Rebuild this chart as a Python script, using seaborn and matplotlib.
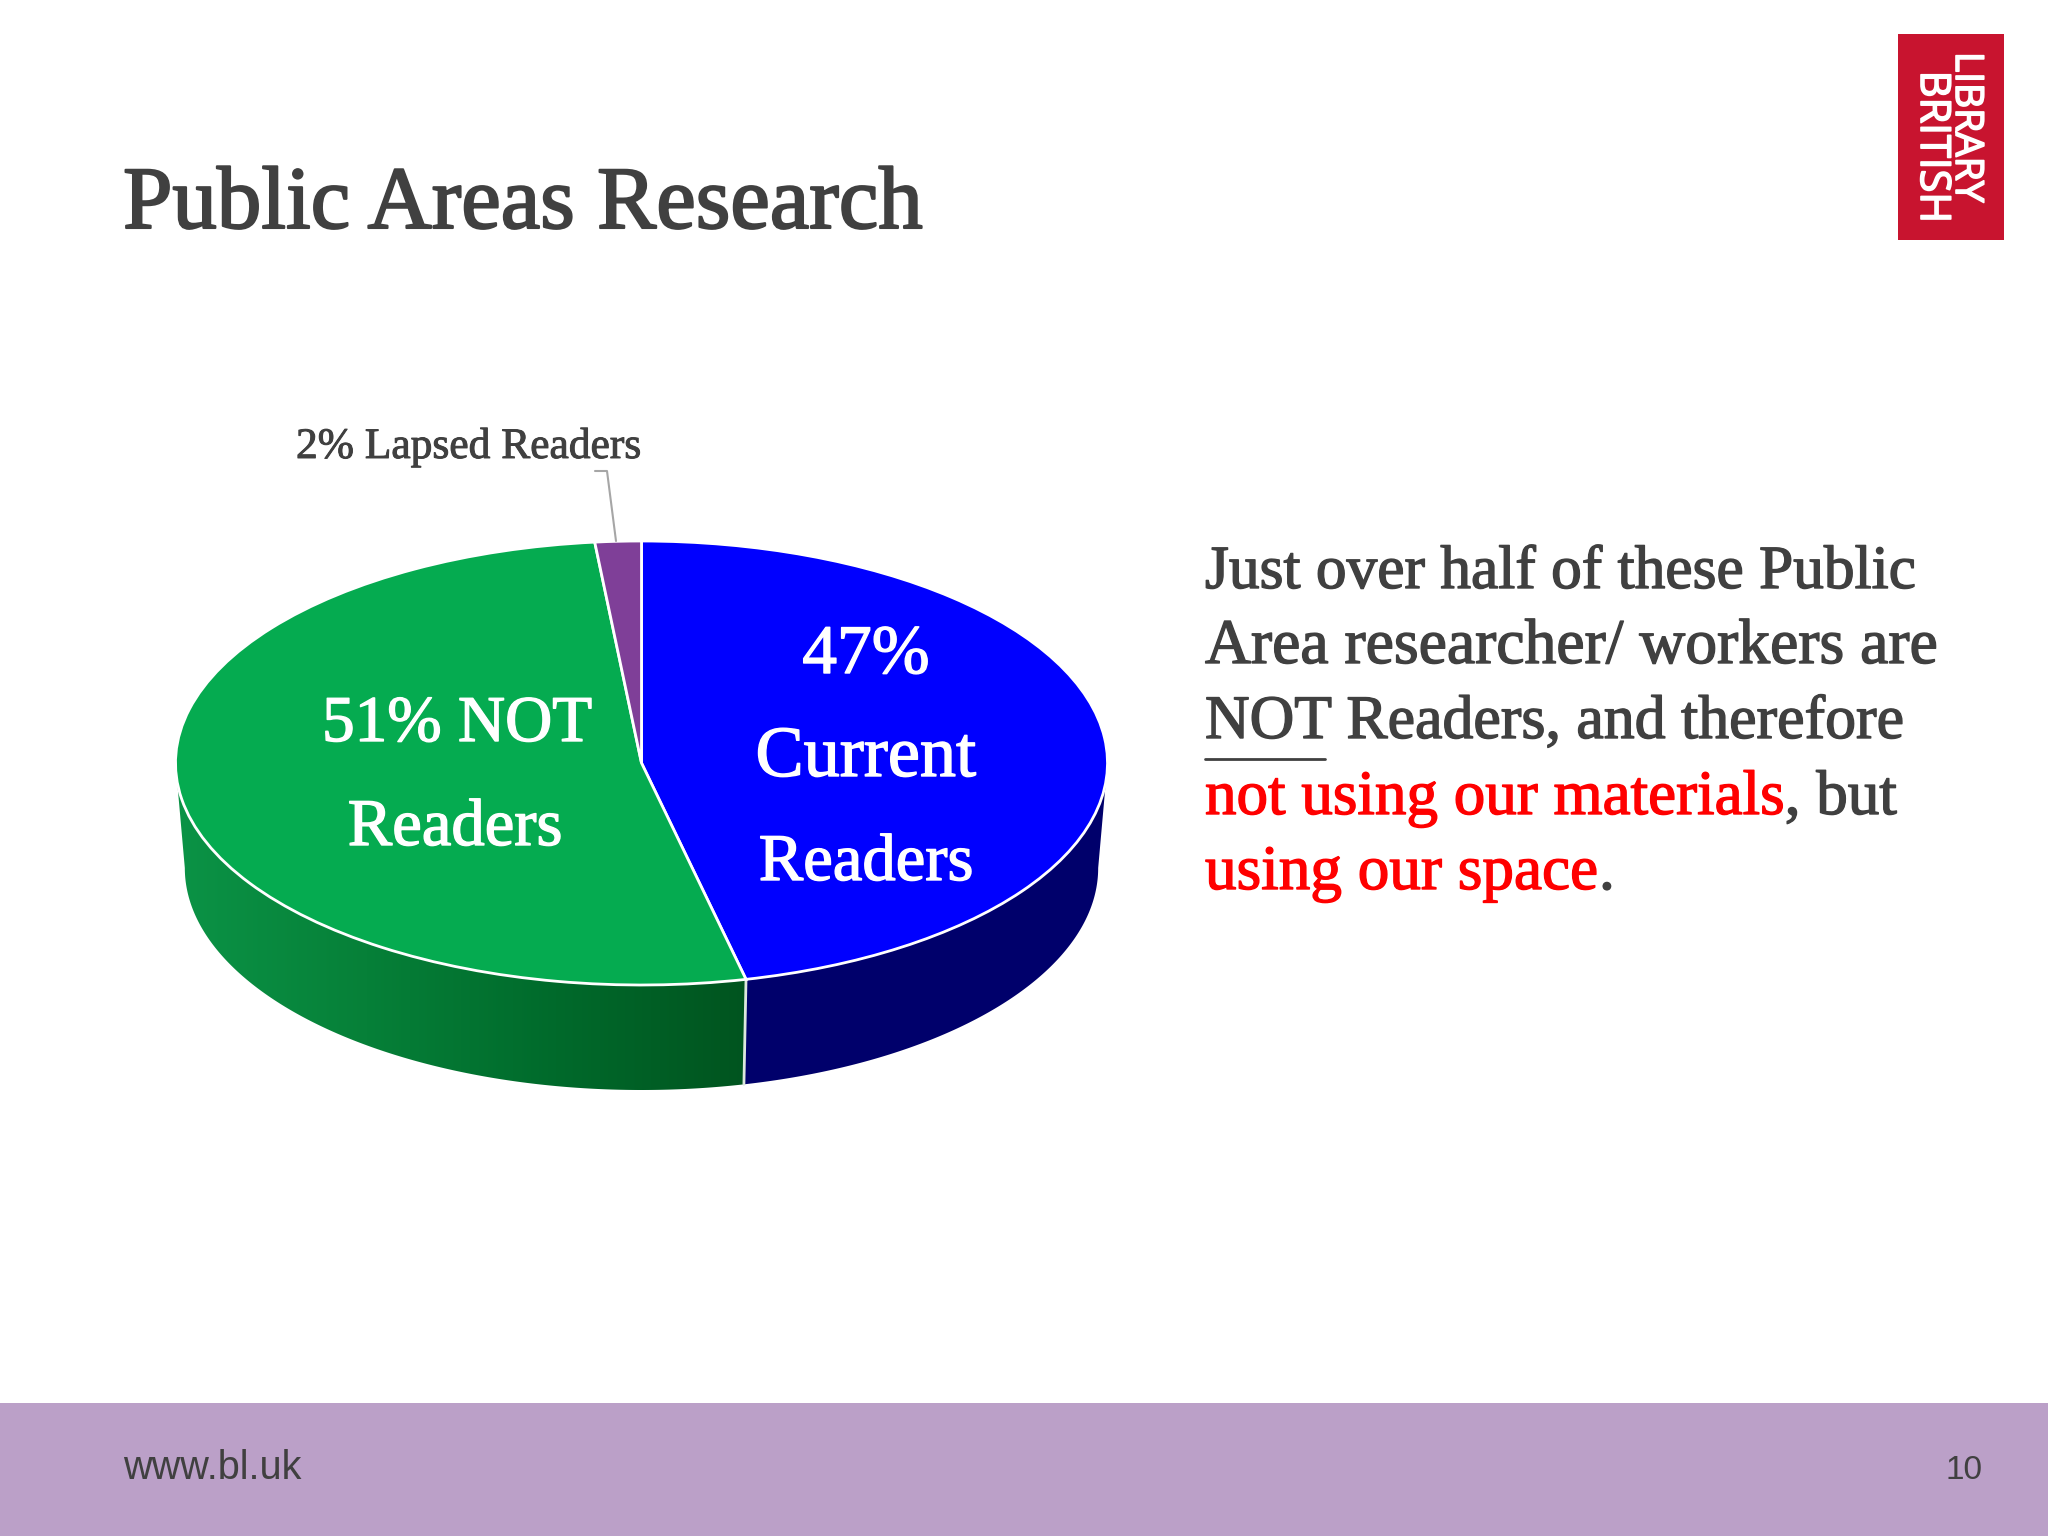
import numpy as np
import matplotlib
matplotlib.use("Agg")
import matplotlib.pyplot as plt
import matplotlib.patheffects as pe
from matplotlib.colors import LinearSegmentedColormap
from matplotlib.patches import Polygon, Rectangle
import seaborn as sns

# data, slice sizes as they are drawn in the tilted pie
categories = ["Current Readers", "NOT Readers", "Lapsed Readers"]
shares = [46.4, 52.0, 1.6]
top_colors = ["#0000FF", "#05AB50", "#7F3F98"]
side_blue = "#00006B"
green_ramp = ["#0B9346", "#068038", "#006A2B", "#00541F"]

title = "Public Areas Research"
footer_left = "www.bl.uk"
footer_right = "10"
lapsed_label = "2% Lapsed Readers"
current_label = ["47%", "Current", "Readers"]
not_label = ["51% NOT", "Readers"]
body_lines = [
    [("Just over half of these Public", "#404040")],
    [("Area researcher/ workers are", "#404040")],
    [("NOT Readers, and therefore", "#404040")],
    [("not using our materials", "#FF0000"), (", but", "#404040")],
    [("using our space", "#FF0000"), (".", "#404040")],
]

W, H = 2048, 1536
CX, CY, RX, RY, DEPTH = 641.5, 763, 466, 222, 105
FLOOR_SCALE = 0.98  # lower rim looks a little narrower

sns.set_theme(style="white")
plt.rcParams["font.family"] = ["Liberation Serif", "DejaVu Serif"]
fig = plt.figure(figsize=(W / 100, H / 100), dpi=100, facecolor="white")

# pie axes, one data unit = radius, squashed into an ellipse
d = DEPTH / RY
left, right = CX - RX, CX + RX
top, bottom = CY - RY, CY + RY + DEPTH
ax = fig.add_axes([left / W, 1 - bottom / H, (right - left) / W, (bottom - top) / H])

edges = np.cumsum([0] + shares) / sum(shares) * 2 * np.pi


def wall(a0, a1):
    # side wall between two angles, clockwise from twelve o'clock
    t = np.linspace(a0, a1, 300)
    x, y = np.sin(t), np.cos(t)
    return np.r_[np.c_[x, y], np.c_[x * FLOOR_SCALE, y - d][::-1]]


def fat(width, color):
    # the slide font is heavier than the one available here
    return [pe.withStroke(linewidth=width, foreground=color)]


ax.add_patch(Polygon(wall(np.pi / 2, edges[1]), closed=True, fc=side_blue, ec="none", zorder=1))

# side of the green slice with its gradient
green_pts = wall(edges[1], 3 * np.pi / 2)
green_side = Polygon(green_pts, closed=True, fc="none", ec="none", transform=ax.transData)
ax.add_patch(green_side)
cmap = LinearSegmentedColormap.from_list("side", green_ramp)
img = ax.imshow(np.linspace(0, 1, 256)[None, :], cmap=cmap, aspect="auto",
                extent=(-1, green_pts[0, 0], -1 - d, 1), zorder=1)
img.set_clip_path(green_side)

# top of the pie
ax.pie(shares, colors=top_colors, startangle=90, counterclock=False, radius=1,
       wedgeprops=dict(edgecolor="white", linewidth=2, zorder=3))
ax.set_aspect("auto")
ax.set_xlim(-1, 1)
ax.set_ylim(-1 - d, 1)
ax.axis("off")
for p in ax.patches:
    p.set_clip_on(False)

# divider on the side wall
split_x, split_y = np.sin(edges[1]), np.cos(edges[1])
ax.plot([split_x, split_x * FLOOR_SCALE], [split_y, split_y - d], color="#DDE8DD", lw=2,
        zorder=2, clip_on=False)

# overlay in pixel coordinates for slide furniture and text
ov = fig.add_axes([0, 0, 1, 1], facecolor="none")
ov.set_xlim(0, W)
ov.set_ylim(H, 0)
ov.axis("off")

ov.add_patch(Rectangle((0, 1403), W, H - 1403, fc="#BBA0C8", ec="none"))
ov.text(123, 1479, footer_left, fontsize=28.5, family="Liberation Sans", color="#404040", va="baseline")
ov.text(1983, 1479, footer_right, fontsize=24, family="Liberation Sans", color="#404040",
        va="baseline", ha="right")

# logo
ov.add_patch(Rectangle((1898, 34), 106, 206, fc="#C8142F", ec="none"))
ov.text(1966, 127, "LIBRARY", rotation=270, fontsize=28, family="Open Sans", color="white",
        ha="center", va="center", path_effects=fat(1.2, "white"))
ov.text(1932, 147, "BRITISH", rotation=270, fontsize=30, family="Open Sans", color="white",
        ha="center", va="center", path_effects=fat(1.2, "white"))

ov.text(123, 228, title, fontsize=64, color="#404040", va="baseline", path_effects=fat(1.5, "#404040"))

# lapsed label with its leader
ov.text(296, 458, lapsed_label, fontsize=31.3, color="#404040", va="baseline",
        path_effects=fat(0.7, "#404040"))
ov.plot([595, 607, 616], [471, 471, 541], color="#A6A6A6", lw=1.5)

# slice labels
for label, ypos, size in zip(current_label, [673, 776, 880], [50, 52, 48]):
    ov.text(866, ypos, label, fontsize=size, color="white", ha="center", va="baseline",
            path_effects=fat(1.0, "white"))
for label, xpos, ypos, size in zip(not_label, [457, 455], [741, 845], [47, 48]):
    ov.text(xpos, ypos, label, fontsize=size, color="white", ha="center", va="baseline",
            path_effects=fat(1.0, "white"))

# body text, coloured runs placed one after another
renderer = fig.canvas.get_renderer()
body_sizes = [44.2, 45.8, 44.5, 45.4, 45.5]
for line, ypos, size in zip(body_lines, [588, 663, 738, 814, 889], body_sizes):
    xpos = 1205
    for run, color in line:
        t = ov.text(xpos, ypos, run, fontsize=size, color=color, va="baseline",
                    path_effects=fat(1.0, color))
        xpos = t.get_window_extent(renderer).x1
ov.plot([1205, 1325], [759, 759], color="#404040", lw=2)

fig.savefig("out.png", dpi=100, facecolor="white")
